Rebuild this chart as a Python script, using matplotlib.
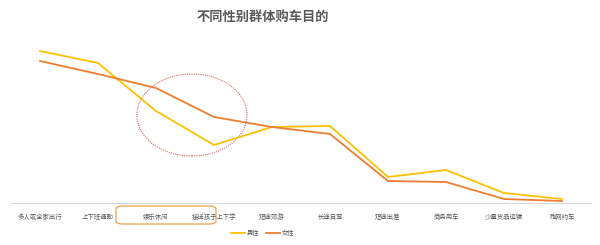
import matplotlib.pyplot as plt
from matplotlib.patches import Ellipse, FancyBboxPatch

plt.rcParams['font.family'] = ['Noto Sans CJK SC', 'DejaVu Sans']

categories = ['多人或全家出行', '上下班通勤', '娱乐休闲', '接送孩子上下学', '短途郊游',
              '长途自驾', '短途出差', '商务用车', '少量货品运输', '跑网约车']
male = [152, 140, 92, 58, 76, 77, 26, 33, 10, 4]
female = [142, 129, 115, 86, 76, 69, 22, 21, 4, 2]

YELLOW = '#FFC000'
ORANGE = '#ED7D31'
TEXT = '#595959'

fig = plt.figure(figsize=(6, 2.45), dpi=100, facecolor='white')
ax = fig.add_axes([11 / 600, 42 / 245, 580 / 600, 170 / 245])

x = range(len(categories))
ax.plot(x, male, color=YELLOW, lw=1.3, label='男性', solid_joinstyle='miter')
ax.plot(x, female, color=ORANGE, lw=1.3, label='女性', solid_joinstyle='miter')

ax.set_xlim(-0.5, len(categories) - 0.5)
ax.set_ylim(0, 170)
ax.set_yticks([])
ax.set_xticks(list(x))
ax.set_xticklabels(categories, fontsize=4.6, color=TEXT)
ax.tick_params(axis='x', length=0, pad=7)
for side in ['top', 'right', 'left']:
    ax.spines[side].set_visible(False)
ax.spines['bottom'].set_color('#d9d9d9')
ax.spines['bottom'].set_linewidth(0.8)

# red dotted circle highlighting the gap
ax.add_patch(Ellipse((2.62, 88), 1.9, 82, fill=False, ec='#E06666',
                     ls=(0, (1, 1)), lw=0.8))

# rounded orange box around two labels
fig.patches.append(FancyBboxPatch((116 / 600, 21 / 245), 100 / 600, 18 / 245,
                                  boxstyle='round,pad=0,rounding_size=0.012',
                                  transform=fig.transFigure, fill=False,
                                  ec='#F0A050', lw=0.9))

fig.text(263 / 600, 1 - 17 / 245, '不同性别群体购车目的', ha='center', va='center',
         fontsize=9.5, fontweight='bold', color=TEXT)

fig.legend(loc='center', bbox_to_anchor=(263 / 600, 12 / 245), ncol=2, frameon=False,
           fontsize=4.6, labelcolor=TEXT, handlelength=2.2, handletextpad=0.3,
           columnspacing=1.0)

fig.savefig('out.png', dpi=100, facecolor='white')
